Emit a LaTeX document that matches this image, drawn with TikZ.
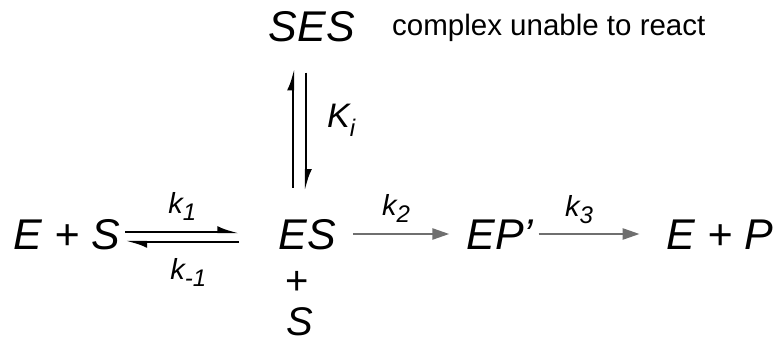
\documentclass[tikz,border=0pt]{standalone}
\usepackage{fontspec}
\setmainfont{Liberation Sans}
\usetikzlibrary{arrows.meta,calc}
\definecolor{arrowgrey}{HTML}{6F6F6F}
\newcommand{\rsub}[2][-7pt]{\raisebox{#1}{\fontsize{24}{24}\selectfont #2}}
\tikzset{
  species/.style={inner sep=0pt,anchor=base,font=\fontsize{43}{43}\selectfont\itshape},
  ratelab/.style={inner sep=0pt,font=\fontsize{29}{29}\selectfont\itshape},
  remarktext/.style={inner sep=0pt,anchor=base west,font=\fontsize{29.5}{29.5}\selectfont},
  harpoon/.style={line width=2.2pt,-{Latex[left,length=17pt,width=12pt]}},
  onestep/.style={draw=arrowgrey,line width=2.4pt,-{Triangle[length=17pt,width=11pt]}}
}

\begin{document}
\begin{tikzpicture}[x=1pt,y=-1pt]
  \useasboundingbox (0,0) rectangle (777,342);
  % species
  \node[species] (sub)   at (67,249)  {E + S};
  \node[species] (cplx)  at (307,249) {ES};
  \node[species] (inter) at (500,249) {EP’};
  \node[species] (prod)  at (720,249) {E + P};
  \node[species] (ses)   at (312,42)  {SES};
  \node[species,font=\fontsize{40}{40}\selectfont] (plus) at (297,294) {+};
  \node[species,font=\fontsize{40}{40}\selectfont\itshape] (extra) at (300,335) {S};
  \node[remarktext] (remark) at (392,36) {complex unable to react};

  % binding equilibrium
  \draw[harpoon] ($(sub.base east)+(5,-17)$) -- ($(cplx.base west)+(-39,-17)$)
    node[ratelab,midway,above=10pt] (kf) {k\rsub{1}};
  \draw[harpoon] ($(cplx.base west)+(-39,-7)$) -- ($(sub.base east)+(5,-7)$)
    node[ratelab,midway,below=15pt,xshift=6pt] (kb) {k\rsub{-1}};

  % substrate inhibition
  \draw[harpoon] ($(cplx.north)+(-14,-31)$) -- ($(ses.south)+(-19,26)$);
  \draw[harpoon] ($(ses.south)+(-6,30)$) -- ($(cplx.north)+(-1,-28)$)
    node[ratelab,midway,right=20pt,yshift=11pt,font=\fontsize{34}{34}\selectfont\itshape] (ki) {K\rsub[-9pt]{i}};

  % catalytic steps
  \draw[onestep] ($(cplx.base east)+(17,-15)$) -- ($(inter.base west)+(-17,-15)$)
    node[ratelab,midway,above=10pt,xshift=-5pt] (kcat) {k\rsub{2}};
  \draw[onestep] ($(inter.base east)+(5,-15)$) -- ($(prod.base west)+(-27,-15)$)
    node[ratelab,midway,above=9pt,xshift=-10pt] (krel) {k\rsub{3}};
\end{tikzpicture}
\end{document}
